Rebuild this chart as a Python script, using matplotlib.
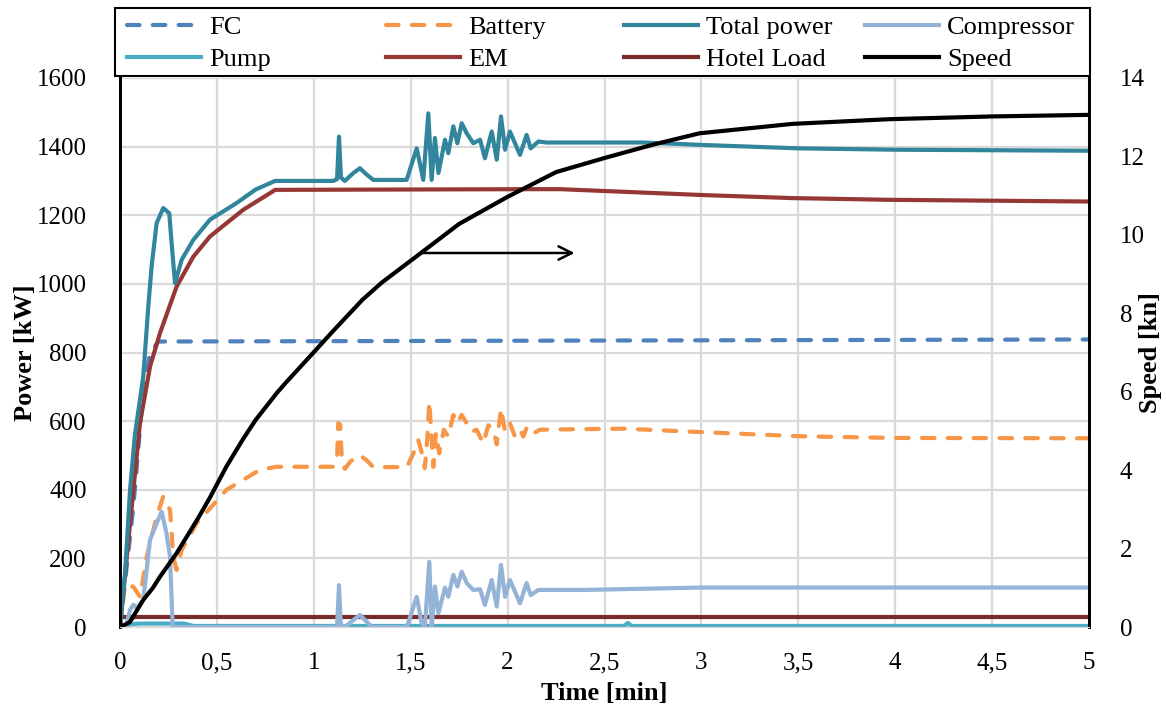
import matplotlib.pyplot as plt
from matplotlib.patches import Rectangle
from matplotlib.ticker import FuncFormatter

plt.rcParams['font.family'] = ['Liberation Serif', 'DejaVu Serif']

# Power series [kW] against time [min].

t_fc = [0, 0.069, 0.12, 0.155, 0.198, 5.0]
fc = [0, 351, 691, 798, 832, 838]

t_batt = [0, 0.026, 0.069, 0.103, 0.138, 0.189, 0.223, 0.258, 0.275, 0.292, 0.318,
          0.395, 0.55, 0.722, 0.808, 1.10, 1.12, 1.126, 1.136, 1.145, 1.16, 1.19,
          1.238, 1.27, 1.307, 1.48, 1.514, 1.539, 1.556, 1.573, 1.585, 1.596, 1.603,
          1.617, 1.63, 1.647, 1.671, 1.694, 1.72, 1.74, 1.763, 1.789, 1.815, 1.84,
          1.875, 1.9, 1.927, 1.944, 1.966, 1.987, 2.012, 2.038, 2.064, 2.081, 2.098,
          2.124, 2.167, 2.6, 3.0, 3.5, 4.0, 5.0]
battery = [0, 127, 117, 88, 205, 322, 380, 341, 205, 166, 224,
           302, 400, 458, 467, 467, 487, 594, 590, 483, 461, 483,
           501, 487, 466, 466, 506, 545, 510, 463, 545, 657, 594,
           467, 565, 506, 575, 555, 618, 594, 618, 594, 569, 575,
           535, 588, 575, 532, 637, 569, 594, 555, 575, 555, 580,
           561, 575, 578, 568, 556, 551, 550]

t_total = [0, 0.026, 0.052, 0.077, 0.12, 0.146, 0.163, 0.189, 0.223, 0.254, 0.272,
           0.284, 0.318, 0.378, 0.464, 0.6, 0.7, 0.8, 1.1, 1.12, 1.13, 1.14, 1.16,
           1.204, 1.238, 1.27, 1.307, 1.479, 1.531, 1.565, 1.591, 1.608, 1.625, 1.643,
           1.677, 1.694, 1.72, 1.741, 1.763, 1.789, 1.823, 1.858, 1.883, 1.918, 1.944,
           1.966, 1.987, 2.012, 2.064, 2.098, 2.119, 2.159, 2.2, 2.7, 3.0, 3.5, 4.0, 5.0]
total = [0, 157, 400, 560, 730, 934, 1050, 1177, 1221, 1206, 1080,
         1002, 1070, 1128, 1187, 1235, 1275, 1300, 1300, 1305, 1429, 1310, 1300,
         1323, 1337, 1320, 1303, 1303, 1395, 1303, 1497, 1303, 1425, 1323,
         1420, 1381, 1459, 1410, 1468, 1439, 1410, 1420, 1366, 1444, 1362,
         1488, 1391, 1444, 1376, 1434, 1395, 1415, 1412, 1412, 1405, 1395, 1391, 1388]

t_comp = [0, 0.03, 0.052, 0.069, 0.086, 0.12, 0.155, 0.189, 0.215, 0.24, 0.258, 0.272,
          1.11, 1.12, 1.13, 1.14, 1.16, 1.238, 1.3, 1.48, 1.531, 1.556, 1.573, 1.596,
          1.608, 1.625, 1.643, 1.677, 1.694, 1.72, 1.741, 1.763, 1.789, 1.823, 1.858,
          1.883, 1.918, 1.944, 1.966, 1.987, 2.012, 2.064, 2.098, 2.119, 2.159, 2.4,
          3.0, 5.0]
compressor = [0, 0, 50, 65, 55, 79, 254, 302, 336, 273, 205, 0,
              0, 0, 122, 0, 0, 35, 0, 0, 88, 12, 0, 190,
              0, 118, 40, 115, 88, 152, 118, 161, 128, 108, 110,
              64, 137, 60, 181, 88, 137, 69, 128, 93, 108, 108,
              115, 115]

t_pump = [0, 0.05, 0.1, 0.33, 0.38, 2.6, 2.62, 2.64, 5.0]
pump = [0, 8, 10, 10, 3, 3, 12, 3, 3]

t_em = [0, 0.052, 0.103, 0.155, 0.206, 0.292, 0.378, 0.464, 0.636, 0.79, 0.8,
        2.1, 2.27, 3.0, 3.47, 3.97, 5.0]
em = [0, 302, 594, 759, 856, 992, 1079, 1138, 1216, 1270, 1274,
      1276, 1276, 1259, 1250, 1245, 1240]

t_hotel = [0, 5.0]
hotel = [30, 30]

# Speed [kn] on the right axis.
t_speed = [0, 0.05, 0.12, 0.17, 0.206, 0.292, 0.4, 0.464, 0.55, 0.636, 0.7, 0.808,
           0.85, 0.98, 1.1, 1.25, 1.35, 1.54, 1.75, 2.0, 2.25, 2.5, 2.75, 2.99,
           3.47, 3.97, 4.5, 5.0]
speed = [0, 0.12, 0.69, 1.0, 1.28, 1.88, 2.75, 3.3, 4.1, 4.8, 5.28, 5.96,
         6.2, 6.9, 7.55, 8.34, 8.78, 9.49, 10.28, 10.97, 11.6, 11.96, 12.3, 12.59,
         12.83, 12.95, 13.02, 13.06]

x_ticks = [0, 0.5, 1, 1.5, 2, 2.5, 3, 3.5, 4, 4.5, 5]
power_ticks = [0, 200, 400, 600, 800, 1000, 1200, 1400, 1600]
speed_ticks = [0, 2, 4, 6, 8, 10, 12, 14]

W, H = 1166, 704
fig = plt.figure(figsize=(W / 100, H / 100), dpi=100)
ax = fig.add_axes([120 / W, 1 - 627 / H, 969 / W, 549 / H])
ax2 = ax.twinx()

lw = 3.0
dash = (0, (3.0, 3.2))
l_fc, = ax.plot(t_fc, fc, color='#4F81BD', lw=lw, linestyle=dash,
                dash_capstyle='round', label='FC')
l_batt, = ax.plot(t_batt, battery, color='#F79646', lw=lw, linestyle=dash,
                  dash_capstyle='round', label='Battery')
l_pump, = ax.plot(t_pump, pump, color='#4BACC6', lw=lw, label='Pump')
l_hotel, = ax.plot(t_hotel, hotel, color='#772C2A', lw=lw, label='Hotel Load')
l_comp, = ax.plot(t_comp, compressor, color='#95B3D7', lw=lw, label='Compressor')
l_em, = ax.plot(t_em, em, color='#953735', lw=lw, label='EM')
l_total, = ax.plot(t_total, total, color='#31859C', lw=lw, label='Total power')
l_speed, = ax2.plot(t_speed, speed, color='black', lw=lw, label='Speed')

ax.annotate('', xy=(2.36, 1090), xytext=(1.54, 1090),
            arrowprops=dict(arrowstyle='->', color='black', lw=1.8,
                            mutation_scale=24))

ax.set_xlim(0, 5)
ax.set_ylim(0, 1600)
ax2.set_ylim(0, 14)
ax.set_xticks(x_ticks)
ax.set_yticks(power_ticks)
ax2.set_yticks(speed_ticks)
ax.xaxis.set_major_formatter(FuncFormatter(lambda v, p: f'{v:g}'.replace('.', ',')))

ax.grid(True, color='#D9D9D9', lw=1.6)
ax.set_axisbelow(True)
for a in (ax, ax2):
    a.tick_params(length=0, labelsize=18)
    a.spines['top'].set_visible(False)
    a.spines['bottom'].set_color('#D9D9D9')
    a.spines['left'].set_linewidth(2)
    a.spines['right'].set_linewidth(2)
ax.tick_params(axis='y', pad=24)
ax.tick_params(axis='x', pad=18)
ax2.tick_params(axis='y', pad=22)

ax.set_xlabel('Time [min]', fontsize=19, fontweight='bold', labelpad=6)
ax.set_ylabel('Power [kW]', fontsize=19, fontweight='bold', labelpad=0)
ax2.set_ylabel('Speed [kn]', fontsize=19, fontweight='bold', labelpad=-4)

# legend box above the plot, one legend per column so columns sit evenly
fig.add_artist(Rectangle((115 / W, 1 - 76 / H), 975 / W, 68 / H,
                         transform=fig.transFigure, fill=False,
                         edgecolor='black', lw=1.5))
columns = [([l_fc, l_pump], 127), ([l_batt, l_em], 386),
           ([l_total, l_hotel], 624), ([l_comp, l_speed], 865)]
for hs, x0 in columns:
    leg = fig.legend(handles=hs, loc='upper left',
                     bbox_to_anchor=(x0 / W, 1 - 16 / H),
                     bbox_transform=fig.transFigure, frameon=False,
                     borderpad=0, borderaxespad=0, fontsize=19,
                     handlelength=2.8, handletextpad=0.3, labelspacing=0.3)

fig.savefig('out.png', dpi=100, facecolor='white')
